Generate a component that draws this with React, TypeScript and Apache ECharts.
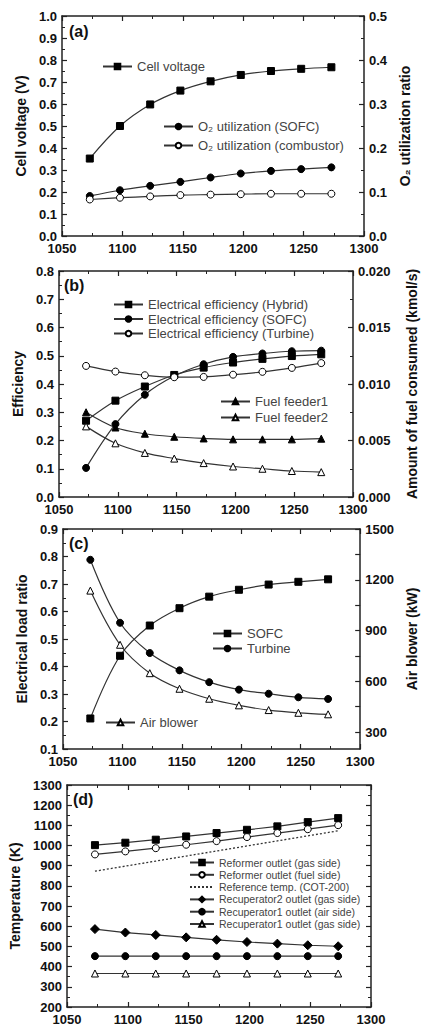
import React, { useEffect, useRef } from "react";
import * as echarts from "echarts";

const temps = [1073, 1098, 1123, 1148, 1173, 1198, 1223, 1248, 1273];

// (a)
const cellVoltage = [0.352, 0.5, 0.598, 0.661, 0.703, 0.732, 0.75, 0.76, 0.767];
const o2Sofc = [0.091, 0.104, 0.114, 0.123, 0.133, 0.142, 0.148, 0.152, 0.156];
const o2Comb = [0.083, 0.087, 0.09, 0.093, 0.094, 0.095, 0.096, 0.096, 0.096];

// (b)
const effHybrid = [0.27, 0.341, 0.391, 0.432, 0.458, 0.476, 0.489, 0.499, 0.505];
const effSofc = [0.103, 0.258, 0.362, 0.428, 0.47, 0.496, 0.508, 0.516, 0.518];
const effTurbine = [0.464, 0.444, 0.431, 0.424, 0.425, 0.433, 0.443, 0.457, 0.474];
const fuelFeeder1 = [0.0075, 0.00615, 0.0056, 0.00533, 0.00518, 0.0051, 0.0051, 0.0051, 0.00516];
const fuelFeeder2 = [0.00625, 0.00475, 0.0039, 0.0034, 0.003, 0.0027, 0.0025, 0.0023, 0.0022];

// (c)
const loadSofc = [0.211, 0.439, 0.549, 0.612, 0.654, 0.679, 0.698, 0.708, 0.717];
const loadTurbine = [0.788, 0.559, 0.449, 0.386, 0.343, 0.316, 0.301, 0.288, 0.282];
const airBlower = [1136, 816, 648, 556, 497, 458, 430, 414, 405];

// (d)
const reformerGas = [1002, 1014, 1029, 1045, 1062, 1078, 1095, 1116, 1136];
const reformerFuel = [956, 971, 987, 1004, 1022, 1042, 1062, 1081, 1101];
const referenceTemp = [873, 898, 923, 948, 973, 998, 1023, 1048, 1073];
const recup2Gas = [586, 569, 557, 545, 533, 522, 514, 506, 501];
const recup1Air = [452, 452, 452, 452, 452, 452, 452, 452, 452];
const recup1Gas = [366, 366, 366, 366, 366, 366, 366, 366, 366];

const xTicks = [1050, 1300, 50];
const airBlowerLabels = [300, 600, 900, 1200, 1500];
const airBlowerTicks = [300, 450, 600, 750, 900, 1050, 1200, 1350, 1500];

const FONT = "'Liberation Sans', Arial, sans-serif";
const AXIS_COLOR = "#222";
const LINE_COLOR = "#333";

const grids = [
  { left: 62, top: 16, width: 302, height: 220 },
  { left: 59, top: 271, width: 308, height: 226 },
  { left: 63, top: 529, width: 301, height: 220 },
  { left: 67, top: 785, width: 304, height: 222 },
];

function pairs(vals: number[]) {
  return temps.map((t, i) => [t, vals[i]]);
}

function mkSeries(
  name: string,
  vals: number[],
  panel: number,
  right: boolean,
  symbol: string,
  open: boolean,
  opts: any = {}
) {
  return {
    type: "line",
    name,
    data: pairs(vals),
    xAxisIndex: panel * 2,
    yAxisIndex: panel * 2 + (right ? 1 : 0),
    symbol,
    symbolSize: symbol === "diamond" ? 9 : 7,
    smooth: panel < 3 ? 0.35 : false,
    lineStyle: { color: LINE_COLOR, width: 1.2, ...(opts.lineStyle || {}) },
    itemStyle: {
      color: open ? "#fff" : "#000",
      borderColor: "#000",
      borderWidth: 1,
    },
    z: 3,
    ...(opts.extra || {}),
  };
}

const tickCommon = {
  axisLine: { show: true, onZero: false, lineStyle: { color: AXIS_COLOR, width: 1.5 } },
  axisTick: { show: true, inside: true, length: 5, lineStyle: { color: AXIS_COLOR, width: 1.2 } },
  minorTick: { show: true, splitNumber: 2, length: 3, lineStyle: { color: AXIS_COLOR, width: 1 } },
  splitLine: { show: false },
};

const labelStyle = {
  color: "#111",
  fontFamily: FONT,
  fontWeight: "bold",
  fontSize: 13,
};

const nameStyle = {
  color: "#111",
  fontFamily: FONT,
  fontWeight: "bold",
  fontSize: 14,
};

function xAxes(panel: number) {
  return [
    {
      type: "value",
      gridIndex: panel,
      position: "bottom",
      min: xTicks[0],
      max: xTicks[1],
      interval: xTicks[2],
      ...tickCommon,
      axisLabel: { ...labelStyle, margin: 6, formatter: (v: number) => String(v) },
    },
    {
      type: "value",
      gridIndex: panel,
      position: "top",
      min: xTicks[0],
      max: xTicks[1],
      interval: xTicks[2],
      ...tickCommon,
      axisLabel: { show: false },
    },
  ];
}

function yAxis(
  panel: number,
  right: boolean,
  min: number,
  max: number,
  interval: number | null,
  digits: number,
  name: string,
  nameGap: number,
  showLabel = true,
  extra: any = {}
) {
  const ax: any = {
    type: "value",
    gridIndex: panel,
    position: right ? "right" : "left",
    min,
    max,
    ...tickCommon,
    axisLabel: {
      show: showLabel,
      ...labelStyle,
      margin: 5,
      formatter: (v: number) => v.toFixed(digits),
    },
    name,
    nameLocation: "middle",
    nameGap,
    nameRotate: 90,
    nameTextStyle: nameStyle,
    ...extra,
  };
  if (interval !== null) ax.interval = interval;
  return ax;
}

const legendText = { color: "#444", fontFamily: FONT, fontSize: 13 };

function legend(names: any[], left: number, top: number, gap: number, opts: any = {}) {
  return {
    data: names,
    left,
    top,
    orient: "vertical",
    itemGap: gap,
    itemWidth: 29,
    itemHeight: 7,
    padding: 0,
    textStyle: { ...legendText, ...(opts.textStyle || {}) },
    ...(opts.extra || {}),
  };
}

export default function App() {
  const ref = useRef<HTMLDivElement>(null);
  useEffect(() => {
    document.body.style.margin = "0";
    if (!ref.current) return;
    const chart = echarts.init(ref.current, undefined, { renderer: "svg" });

    const series: any[] = [
      mkSeries("Cell voltage", cellVoltage, 0, false, "rect", false),
      mkSeries("O₂ utilization (SOFC)", o2Sofc, 0, true, "circle", false),
      mkSeries("O₂ utilization (combustor)", o2Comb, 0, true, "circle", true),

      mkSeries("Electrical efficiency (Hybrid)", effHybrid, 1, false, "rect", false),
      mkSeries("Electrical efficiency (SOFC)", effSofc, 1, false, "circle", false),
      mkSeries("Electrical efficiency (Turbine)", effTurbine, 1, false, "circle", true),
      mkSeries("Fuel feeder1", fuelFeeder1, 1, true, "triangle", false),
      mkSeries("Fuel feeder2", fuelFeeder2, 1, true, "triangle", true),

      mkSeries("SOFC", loadSofc, 2, false, "rect", false),
      mkSeries("Turbine", loadTurbine, 2, false, "circle", false),
      mkSeries("Air blower", airBlower, 2, true, "triangle", true),

      mkSeries("Reformer outlet (gas side)", reformerGas, 3, false, "rect", false),
      mkSeries("Reformer outlet (fuel side)", reformerFuel, 3, false, "circle", true),
      mkSeries("Reference temp. (COT-200)", referenceTemp, 3, false, "none", false, {
        lineStyle: { type: [2, 2], width: 1.3 },
      }),
      mkSeries("Recuperator2 outlet (gas side)", recup2Gas, 3, false, "diamond", false),
      mkSeries("Recuperator1 outlet (air side)", recup1Air, 3, false, "circle", false),
      mkSeries("Recuperator1 outlet (gas side)", recup1Gas, 3, false, "triangle", true),
    ];

    const option: any = {
      animation: false,
      backgroundColor: "#fff",
      grid: grids.map((g) => ({ ...g, containLabel: false })),
      xAxis: [...xAxes(0), ...xAxes(1), ...xAxes(2), ...xAxes(3)],
      yAxis: [
        yAxis(0, false, 0, 1, 0.1, 1, "Cell voltage (V)", 30),
        yAxis(0, true, 0, 0.5, 0.1, 1, "O₂ utilization ratio", 32),
        yAxis(1, false, 0, 0.8, 0.1, 1, "Efficiency", 30),
        yAxis(1, true, 0, 0.02, 0.005, 3, "Amount of fuel consumed (kmol/s)", 52),
        yAxis(2, false, 0.1, 0.9, 0.1, 1, "Electrical load ratio", 33),
        yAxis(2, true, 200, 1500, null, 0, "Air blower (kW)", 32, true, {
          axisLabel: {
            ...labelStyle,
            margin: 5,
            customValues: airBlowerLabels,
            formatter: (v: number) => String(v),
          },
          axisTick: {
            show: true,
            inside: true,
            length: 5,
            lineStyle: { color: AXIS_COLOR, width: 1.2 },
            customValues: airBlowerTicks,
          },
          minorTick: { show: false },
        }),
        yAxis(3, false, 200, 1300, 100, 0, "Temperature (K)", 40),
        yAxis(3, true, 200, 1300, 100, 0, "", 30, false),
      ],
      legend: [
        legend(["Cell voltage"], 102, 60, 6),
        legend(["O₂ utilization (SOFC)", "O₂ utilization (combustor)"], 163, 120, 6),
        legend(
          [
            "Electrical efficiency (Hybrid)",
            "Electrical efficiency (SOFC)",
            "Electrical efficiency (Turbine)",
          ],
          113,
          298,
          1.5
        ),
        legend(["Fuel feeder1", "Fuel feeder2"], 220, 395, 3),
        legend(["SOFC", "Turbine"], 212, 627, 2),
        legend(["Air blower"], 105, 716, 2),
        legend(
          [
            "Reformer outlet (gas side)",
            "Reformer outlet (fuel side)",
            { name: "Reference temp. (COT-200)", itemStyle: { opacity: 0 } },
            "Recuperator2 outlet (gas side)",
            "Recuperator1 outlet (air side)",
            "Recuperator1 outlet (gas side)",
          ],
          189,
          857,
          1.3,
          { textStyle: { fontSize: 10.5 }, extra: { itemWidth: 24 } }
        ),
      ],
      graphic: [
        { type: "text", left: 69, top: 23, style: { text: "(a)", font: `bold 16px ${FONT}`, fill: "#111" } },
        { type: "text", left: 64, top: 277, style: { text: "(b)", font: `bold 16px ${FONT}`, fill: "#111" } },
        { type: "text", left: 69, top: 535, style: { text: "(c)", font: `bold 16px ${FONT}`, fill: "#111" } },
        { type: "text", left: 73, top: 791, style: { text: "(d)", font: `bold 16px ${FONT}`, fill: "#111" } },
      ],
      series,
    };
    chart.setOption(option);
    return () => chart.dispose();
  }, []);
  return <div ref={ref} style={{ width: 427, height: 1026 }} />;
}
